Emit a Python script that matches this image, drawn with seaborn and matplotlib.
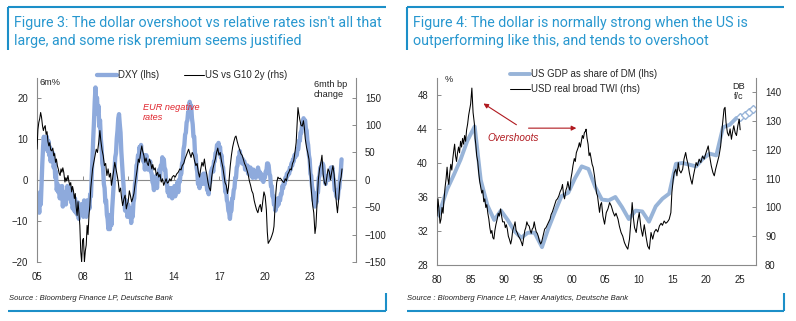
import numpy as np
import matplotlib
matplotlib.use("Agg")
import matplotlib.pyplot as plt
import seaborn as sns
from matplotlib.lines import Line2D

# ---------------- Figure 3 data ----------------
# DXY 6m % change, sampled every 0.05 yr from 2005.00
dxy_chg = [
    -4, -7, -5.5, -8, -3, -6, -1, 4, 8, 10.5, 7.5, 10, 8, 10.5, 7, 9.5, 6, 8, 4.5, 7,                       # 2005
    5, 6.5, 3, 4.5, 0.5, 2, -2.5, -1, -3, -1.5, -4.5, -2, -3.5, -1.5, -6.5, -4, -5.5, -3, -6, -3,           # 2006
    -1.5, -4.5, -2, -4, -2, -5.5, -3.5, -7, -5, -7.5, -4.5, -8, -6, -8.5, -5.5, -9.5, -6.5, -8.5, -6, -8,   # 2007
    -6, -9, -5, -8, -6, -9, -5, -7.5, -5.5, -7, -3.5, -4, 1, 5, 10, 14, 19, 22.5, 18.5, 20,                 # 2008
    16, 18, 13, 14.5, 10, 8, 4, 3, -1, -2, -5.5, -5, -8.5, -9.5, -12, -10, -12, -8.5, -11, -7,              # 2009
    -4, -1, 2, 5.5, 6.5, 10, 12, 15, 16, 13.5, 11.5, 7, 4, 1, -1.5, -5, -7.5, -5, -6.5, -9,                 # 2010
    -6, -8.5, -9, -7, -10.5, -7.5, -9, -5.5, -4.5, -1, 0, 3.5, 4, 6, 5.5, 8, 7, 8.5, 6, 6,                  # 2011
    4.5, 6, 2.5, 5, 6, 3, 2.5, 4.5, 3, 4.5, 2, 1.5, -0.5, -1, -2.5, 0.5, 0, 1, -2, 1,                       # 2012
    1, 2.5, 0.5, 3.5, 3, 5.5, 4.5, 5, 2.5, 2.5, -0.5, -0.5, -3, -2.5, -4, -2, -3, -2, -4.5, -2.5,           # 2013
    -3, -1.5, -4, -1.5, -2, -0.5, -3, 0, -0.5, 1.5, 1.5, 4, 4.5, 7.5, 8.5, 11, 11.5, 14, 14.5, 16.5,        # 2014
    16.5, 19, 18, 18, 15, 13.5, 10.5, 10.5, 6.5, 6, 3, 2, -1, -1, -2, -0.5, 0.5, 1, -1, 1.5,                # 2015
    1, 1.5, -1, -0.5, -2.5, -2, -3.5, -0.5, -0.5, 2, 2.5, 3, 2, 4.5, 4.5, 6.5, 6.5, 8.5, 8, 9,              # 2016
    7, 8, 5.5, 6, 3.5, 3, 0.5, -0.5, -3, -2.5, -5, -5.5, -7.5, -8, -9.5, -7.5, -7.5, -4.5, -4.5, -2.5,      # 2017
    -2, 0.5, 0.5, 3, 3.5, 5.5, 5, 7, 5.5, 5.5, 4, 5, 4, 4.5, 2.5, 3.5, 3, 3.5, 1.5, 3,                      # 2018
    2, 3, 1, 2, 0.5, 2.5, 1.5, 2, 0.5, 2, 1, 3, 1.5, 2, 0.5, 1.5, 0, 1, -0.5, 1,                            # 2019
    0.5, 2, 2, 4, 4, 3.5, 1.5, 1, -1.5, -1.5, -4, -4, -6, -6, -7.5, -5.5, -6.5, -4.5, -6, -4.5,             # 2020
    -5, -3.5, -3.5, -1.5, -2, -0.5, -1, 0.5, 0, 1.5, 1, 2, 1.5, 3, 2.5, 4, 3.5, 5, 4.5, 6,                  # 2021
    5.5, 6.5, 6, 7.5, 7.5, 9.5, 9.5, 11.5, 11.5, 13.5, 13.5, 15, 14, 14.5, 12.5, 12, 9.5, 8.5, 6, 5,        # 2022
    1.5, 1, -1.5, -2.5, -5, -5, -6.5, -5, -5.5, -3, -3, 0.5, 1, 3, 2.5, 4, 4, 3.5, 1.5, 0.5,                # 2023
    -1, 0, 0.5, 1, 0, 2, 1, 3, 2.5, 3, 0.5, 0, -2.5, -2.5, -4, -4, -4.5, -2.5, -2, 0.5,                     # 2024
    2, 5,                                                                                                    # 2025
]
dxy_year = 2005 + 0.05 * np.arange(len(dxy_chg))

spread_year = [2005.00, 2005.06, 2005.12, 2005.18, 2005.24, 2005.30, 2005.36, 2005.42, 2005.48, 2005.54,
               2005.60, 2005.66, 2005.72, 2005.78, 2005.84, 2005.90, 2005.96, 2006.04, 2006.10, 2006.16,
               2006.22, 2006.28, 2006.34, 2006.40, 2006.46, 2006.52, 2006.58, 2006.64, 2006.70, 2006.76,
               2006.84, 2006.90, 2006.96, 2007.04, 2007.10, 2007.16, 2007.22, 2007.28, 2007.34, 2007.40,
               2007.46, 2007.52, 2007.58, 2007.64, 2007.70, 2007.76, 2007.82, 2007.88, 2007.94, 2008.00,
               2008.06, 2008.12, 2008.18, 2008.24, 2008.30, 2008.36, 2008.42, 2008.48, 2008.54, 2008.60,
               2008.66, 2008.74, 2008.82, 2008.90, 2008.98, 2009.06, 2009.14, 2009.20, 2009.28, 2009.36,
               2009.44, 2009.52, 2009.60, 2009.68, 2009.76, 2009.84, 2009.90, 2009.96, 2010.04, 2010.12,
               2010.20, 2010.28, 2010.35, 2010.42, 2010.50, 2010.57, 2010.64, 2010.72, 2010.80, 2010.88,
               2010.94, 2011.00, 2011.08, 2011.16, 2011.23, 2011.30, 2011.38, 2011.45, 2011.52, 2011.60,
               2011.67, 2011.74, 2011.82, 2011.90, 2011.96, 2012.04, 2012.10, 2012.18, 2012.26, 2012.33,
               2012.40, 2012.48, 2012.56, 2012.62, 2012.70, 2012.78, 2012.86, 2012.94, 2013.02, 2013.10,
               2013.18, 2013.26, 2013.34, 2013.42, 2013.50, 2013.58, 2013.66, 2013.74, 2013.82, 2013.90,
               2014.00, 2014.10, 2014.20, 2014.30, 2014.40, 2014.48, 2014.56, 2014.66, 2014.74, 2014.82,
               2014.90, 2014.98, 2015.06, 2015.14, 2015.22, 2015.30, 2015.38, 2015.46, 2015.54, 2015.62,
               2015.70, 2015.78, 2015.86, 2015.94, 2016.02, 2016.10, 2016.18, 2016.26, 2016.34, 2016.42,
               2016.50, 2016.58, 2016.66, 2016.74, 2016.82, 2016.90, 2016.98, 2017.06, 2017.14, 2017.22,
               2017.30, 2017.38, 2017.46, 2017.54, 2017.60, 2017.66, 2017.72, 2017.80, 2017.88, 2017.96,
               2018.04, 2018.10, 2018.18, 2018.26, 2018.34, 2018.42, 2018.50, 2018.58, 2018.66, 2018.74,
               2018.82, 2018.90, 2018.98, 2019.06, 2019.14, 2019.22, 2019.30, 2019.38, 2019.46, 2019.54,
               2019.62, 2019.70, 2019.78, 2019.86, 2019.94, 2020.02, 2020.10, 2020.16, 2020.22, 2020.30,
               2020.38, 2020.46, 2020.54, 2020.60, 2020.66, 2020.72, 2020.78, 2020.86, 2020.94, 2021.02,
               2021.10, 2021.18, 2021.26, 2021.34, 2021.42, 2021.50, 2021.58, 2021.66, 2021.74, 2021.82,
               2021.90, 2021.98, 2022.06, 2022.12, 2022.18, 2022.24, 2022.30, 2022.38, 2022.46, 2022.54,
               2022.60, 2022.66, 2022.74, 2022.82, 2022.90, 2022.98, 2023.06, 2023.14, 2023.22, 2023.30,
               2023.36, 2023.44, 2023.52, 2023.60, 2023.68, 2023.76, 2023.84, 2023.92, 2024.00, 2024.08,
               2024.16, 2024.24, 2024.32, 2024.40, 2024.48, 2024.56, 2024.64, 2024.72, 2024.78, 2024.86,
               2024.94, 2025.02, 2025.08]
spread_bp = [56, 92, 105, 112, 123, 114, 99, 90, 96, 99,
             83, 88, 70, 62, 68, 55, 53, 58, 44, 48,
             32, 38, 26, 20, 12, 8, 20, 14, 22, 14,
             -4, 4, -2, 8, -3, -10, -5, -22, -12, -20,
             -34, -25, -50, -65, -40, -60, -83, -131, -150, -110,
             -107, -150, -130, -119, -83, -100, -65, -47, -15, 2,
             20, 32, 45, 56, 50, 68, 90, 72, 55, 44,
             26, 30, 8, 20, 5, 12, -10, 0, 15, 32,
             20, 8, -4, -22, -15, -34, -47, -35, -28, -53,
             -45, -40, -20, -30, -40, -34, -25, -10, 5, 20,
             38, 32, 50, 62, 52, 44, 32, 40, 30, 26,
             38, 32, 20, 28, 18, 22, 8, 14, 5, 10,
             -4, 2, -10, -4, 2, -6, -4, 2, -2, 5,
             8, 5, 11, 14, 20, 18, 26, 30, 38, 44,
             50, 56, 48, 41, 50, 45, 34, 26, 30, 14,
             5, 20, 32, 25, 38, 20, 10, -5, -15, -20,
             5, 20, 30, 38, 50, 58, 45, 50, 35, 25,
             10, -5, -10, -25, -15, 5, 25, 45, 60, 70,
             78, 80, 70, 62, 55, 48, 45, 38, 30, 25,
             18, 10, -2, -10, -20, -25, -38, -47, -55, -60,
             -50, -45, -58, -40, -22, -30, -55, -95, -116, -112,
             -108, -102, -95, -85, -55, -25, -5, 5, 2, 3,
             0, -3, -5, 2, -2, 10, 14, 20, 18, 30,
             35, 50, 68, 100, 132, 120, 110, 100, 98, 108,
             95, 75, 60, 50, 38, 12, -20, -45, -60, -98,
             -85, -40, 0, 20, 30, 45, 10, -5, -10, 5,
             20, 15, 0, 14, 26, 10, -20, -45, -60, -35,
             -5, 5, 20]
fig3_ticks = [2005, 2008, 2011, 2014, 2017, 2020, 2023]
fig3_ticklabels = ["05", "08", "11", "14", "17", "20", "23"]

# ---------------- Figure 4 data ----------------
gdp_year = [1980.2, 1981.5, 1982.5, 1983.5, 1984.5, 1985.6, 1986.5, 1987.5, 1988.5, 1989.5,
            1990.5, 1991.5, 1992.5, 1993.5, 1994.5, 1995.6, 1996.5, 1997.5, 1998.5, 1999.5,
            2000.5, 2001.5, 2002.5, 2003.5, 2004.5, 2005.5, 2006.5, 2007.5, 2008.5, 2009.5,
            2010.5, 2011.5, 2012.5, 2013.5, 2014.5, 2015.5, 2016.5, 2017.5, 2018.5, 2019.5,
            2020.5, 2021.5, 2022.5, 2023.5, 2024.5]
gdp_share = [33.8, 36.9, 38.6, 40.4, 42.6, 44.3, 38.0, 35.0, 33.3, 34.4,
             33.3, 32.0, 31.2, 31.8, 31.8, 30.1, 32.2, 34.2, 36.1, 36.5,
             38.2, 39.6, 39.3, 37.2, 35.7, 35.6, 36.0, 34.8, 33.4, 34.4,
             34.3, 33.1, 34.9, 35.8, 36.4, 39.9, 40.0, 39.8, 39.6, 40.5,
             41.1, 40.9, 44.2, 44.5, 45.3]
fc_year = [2025.0, 2025.7, 2026.4, 2027.0]
fc_share = [45.4, 45.7, 46.0, 46.3]

twi_year = [1980.00, 1980.15, 1980.30, 1980.45, 1980.60, 1980.75, 1980.90, 1981.05, 1981.20, 1981.35,
            1981.50, 1981.62, 1981.75, 1981.90, 1982.05, 1982.20, 1982.35, 1982.50, 1982.62, 1982.75,
            1982.90, 1983.05, 1983.20, 1983.35, 1983.50, 1983.65, 1983.80, 1983.95, 1984.10, 1984.25,
            1984.40, 1984.55, 1984.70, 1984.85, 1985.00, 1985.10, 1985.18, 1985.26, 1985.36, 1985.46,
            1985.56, 1985.66, 1985.76, 1985.90, 1986.05, 1986.20, 1986.35, 1986.50, 1986.65, 1986.80,
            1986.95, 1987.10, 1987.25, 1987.40, 1987.55, 1987.70, 1987.85, 1988.00, 1988.15, 1988.30,
            1988.45, 1988.60, 1988.75, 1988.95, 1989.10, 1989.25, 1989.45, 1989.60, 1989.75, 1990.00,
            1990.15, 1990.30, 1990.45, 1990.60, 1990.75, 1990.95, 1991.10, 1991.25, 1991.45, 1991.60,
            1991.75, 1991.95, 1992.10, 1992.25, 1992.45, 1992.60, 1992.70, 1992.85, 1993.05, 1993.20,
            1993.35, 1993.50, 1993.70, 1993.85, 1994.00, 1994.15, 1994.30, 1994.45, 1994.60, 1994.75,
            1994.90, 1995.05, 1995.20, 1995.40, 1995.55, 1995.70, 1995.85, 1996.00, 1996.20, 1996.40,
            1996.60, 1996.80, 1996.95, 1997.15, 1997.35, 1997.50, 1997.70, 1997.90, 1998.10, 1998.30,
            1998.50, 1998.65, 1998.80, 1998.95, 1999.15, 1999.30, 1999.45, 1999.60, 1999.75, 1999.90,
            2000.05, 2000.20, 2000.40, 2000.55, 2000.70, 2000.85, 2001.00, 2001.15, 2001.30, 2001.45,
            2001.60, 2001.75, 2001.90, 2002.05, 2002.15, 2002.30, 2002.45, 2002.60, 2002.75, 2002.90,
            2003.05, 2003.20, 2003.40, 2003.55, 2003.70, 2003.85, 2004.00, 2004.15, 2004.30, 2004.45,
            2004.65, 2004.90, 2005.15, 2005.40, 2005.65, 2005.90, 2006.15, 2006.40, 2006.60, 2006.90,
            2007.10, 2007.35, 2007.60, 2007.85, 2008.10, 2008.35, 2008.60, 2008.80, 2009.00, 2009.20,
            2009.35, 2009.60, 2009.80, 2010.05, 2010.30, 2010.55, 2010.80, 2011.05, 2011.30, 2011.55,
            2011.80, 2012.05, 2012.30, 2012.55, 2012.80, 2013.05, 2013.30, 2013.50, 2013.75, 2014.00,
            2014.25, 2014.50, 2014.75, 2014.90, 2015.10, 2015.25, 2015.50, 2015.65, 2015.85, 2016.00,
            2016.25, 2016.50, 2016.70, 2016.95, 2017.10, 2017.30, 2017.50, 2017.70, 2017.90, 2018.10,
            2018.30, 2018.50, 2018.70, 2018.95, 2019.20, 2019.45, 2019.70, 2019.90, 2020.15, 2020.30,
            2020.50, 2020.75, 2021.00, 2021.20, 2021.40, 2021.65, 2021.90, 2022.15, 2022.40, 2022.65,
            2022.80, 2022.95, 2023.15, 2023.35, 2023.55, 2023.75, 2023.90, 2024.10, 2024.30, 2024.50,
            2024.70, 2024.90, 2025.05]
twi_index = [97, 103, 99, 94.5, 96, 100, 98, 103, 107, 110,
             114, 110, 108, 112, 115, 113, 117, 120, 122, 118,
             116, 119, 121, 119, 123, 121, 124, 122, 125, 123,
             127, 129, 132, 134, 136, 139, 141.5, 138, 133, 131,
             129, 124, 122, 118, 116, 112, 109, 107, 105, 106,
             102, 103, 100, 101, 98, 96, 93, 91, 92, 89.5,
             89, 92, 94, 96, 98, 97, 99.5, 97, 95, 95,
             93, 94, 92.5, 90, 89, 87.3, 89, 92, 93.5, 95,
             92, 91, 90, 89.5, 88.5, 87.5, 86.7, 89, 92, 93,
             95, 94, 93.5, 92, 91, 92.5, 93, 95, 93, 91.5,
             91, 90, 88.5, 87.3, 88, 89.5, 91, 92.5, 93, 94,
             95, 96, 97.5, 98.5, 100, 101, 102.5, 103, 104, 105.5,
             106.5, 108, 104.5, 103, 106, 107, 109, 107, 106, 110,
             112, 114.5, 117, 116, 119, 120, 121, 122.5, 121, 123,
             125, 124, 126, 126.5, 127.2, 124, 122, 118, 119, 117,
             115, 114, 111, 108, 105, 104, 101, 98.3, 101, 101.7,
             97, 94.2, 98.2, 99.5, 101.7, 100.5, 98.5, 97, 98, 95.9,
             93.5, 91.3, 90, 87.8, 86.5, 85.5, 89, 95, 101.7, 96,
             93, 91.3, 95, 98.2, 93, 90, 94, 90, 86.6, 85.5,
             91.3, 89, 91.5, 92.4, 91.5, 93.6, 94.5, 93.8, 95.3, 94.5,
             95, 95.9, 98.2, 105.2, 109.8, 112.1, 113.3, 111, 115.6, 113,
             112, 113.3, 116.8, 119.1, 117, 115, 112, 109.8, 108.1, 111,
             113.3, 115.6, 114.5, 116.8, 115.6, 117.9, 116.8, 118.5, 120.3, 121.4,
             118, 114.5, 112.1, 111, 113.3, 115.6, 117.9, 121.4, 128.4, 134.2,
             134.8, 129.5, 126, 124.9, 127.3, 123.7, 126, 128.4, 126, 125,
             128.4, 130.7, 127]
fig4_ticks = [1980, 1985, 1990, 1995, 2000, 2005, 2010, 2015, 2020, 2025]
fig4_ticklabels = ["80", "85", "90", "95", "00", "05", "10", "15", "20", "25"]

# ---------------- styling ----------------
sns.set_theme(style="white")
plt.rcParams['font.family'] = ['Liberation Sans', 'DejaVu Sans']

W, H = 796, 321
BLUE_DXY = "#8eaadc"
BLUE_GDP = "#98b4d8"
FRAME = "#1c8fc8"
TITLE = "#2797cf"
SPINE = "#8a8a8a"
TICKTXT = "#222222"
RED = "#e0242c"
DARKRED = "#b0191f"
FS = 6.9

fig = plt.figure(figsize=(W / 100, H / 100), dpi=100)


def fx(px):
    return px / W


def fy(py):
    return 1 - py / H


def box(x0, y0, x1, y1):
    return [fx(x0), fy(y1), fx(x1) - fx(x0), fy(y0) - fy(y1)]


def style_axes(ax, side):
    for s in ["top", "bottom", "left", "right"]:
        ax.spines[s].set_visible(False)
    ax.spines[side].set_visible(True)
    ax.spines[side].set_color(SPINE)
    ax.spines[side].set_linewidth(0.8)
    ax.tick_params(axis="y", direction="in", length=3, width=0.7, color=SPINE,
                   labelsize=FS, labelcolor=TICKTXT, pad=6.5)
    ax.grid(False)


# ---------------- Figure 3 ----------------
ax1 = fig.add_axes(box(37, 78, 356, 262))
ax1r = ax1.twinx()

sns.lineplot(x=dxy_year, y=dxy_chg, ax=ax1, color=BLUE_DXY, lw=3.1, estimator=None, sort=False)
sns.lineplot(x=spread_year, y=spread_bp, ax=ax1r, color="black", lw=0.75, estimator=None, sort=False)

ax1.set_xlim(2005, 2026)
ax1.set_ylim(-20, 24.8)
ax1r.set_ylim(-150, 186)
ax1.set_yticks([-20, -10, 0, 10, 20])
ax1r.set_yticks([-150, -100, -50, 0, 50, 100, 150])
ax1.set_xticks(fig3_ticks)
ax1.set_xticklabels(fig3_ticklabels)
style_axes(ax1, "left")
style_axes(ax1r, "right")
ax1.tick_params(axis="x", length=0, labelsize=FS, labelcolor=TICKTXT, pad=7)
ax1.set_xlabel("")
ax1.set_ylabel("")
ax1r.set_ylabel("")

# zero line carrying the date ticks
zero1 = ax1.secondary_xaxis(0, transform=ax1.transData)
zero1.set_xticks(fig3_ticks)
zero1.tick_params(direction="in", length=3, width=0.7, color=SPINE, labelbottom=False)
for s in zero1.spines.values():
    s.set_color(SPINE)
    s.set_linewidth(0.8)

fig.legend(handles=[ax1.lines[0], ax1r.lines[0]], labels=["DXY (lhs)", "US vs G10 2y (rhs)"],
           loc="center left", bbox_to_anchor=(fx(97), fy(75)), ncol=2, frameon=False,
           fontsize=FS, handlelength=2.1, handletextpad=0.1, columnspacing=2.6,
           borderpad=0, borderaxespad=0)

fig.text(fx(40), fy(83), "6m%", fontsize=FS - 0.3, color=TICKTXT, va="center", ha="left")
fig.text(fx(314), fy(80), "6mth bp\nchange", fontsize=FS - 0.3, color=TICKTXT, va="top",
         ha="left", linespacing=1.15)
fig.text(fx(143), fy(103), "EUR negative\nrates", fontsize=FS - 0.3, color=RED, va="top",
         ha="left", style="italic", linespacing=1.1)

# ---------------- Figure 4 ----------------
ax2 = fig.add_axes(box(437, 78, 756, 265))
ax2r = ax2.twinx()

sns.lineplot(x=gdp_year, y=gdp_share, ax=ax2, color=BLUE_GDP, lw=2.8, estimator=None, sort=False)
sns.lineplot(x=fc_year, y=fc_share, ax=ax2, color=BLUE_GDP, lw=0, marker="D", markersize=4.0,
             markerfacecolor="white", markeredgecolor=BLUE_GDP, markeredgewidth=1.0,
             estimator=None, sort=False)
sns.lineplot(x=twi_year, y=twi_index, ax=ax2r, color="black", lw=0.75, estimator=None, sort=False)

ax2.set_xlim(1980, 2027.4)
ax2.set_ylim(28, 50)
ax2r.set_ylim(80, 145)
ax2.set_yticks([28, 32, 36, 40, 44, 48])
ax2r.set_yticks([80, 90, 100, 110, 120, 130, 140])
ax2.set_xticks(fig4_ticks)
ax2.set_xticklabels(fig4_ticklabels)
style_axes(ax2, "left")
style_axes(ax2r, "right")
ax2.spines["bottom"].set_visible(True)
ax2.spines["bottom"].set_color(SPINE)
ax2.spines["bottom"].set_linewidth(0.8)
ax2.tick_params(axis="x", direction="in", length=3, width=0.7, color=SPINE,
                labelsize=FS, labelcolor=TICKTXT, pad=7)
ax2.set_xlabel("")
ax2.set_ylabel("")
ax2r.set_ylabel("")

fig.legend(handles=[ax2.lines[0], ax2r.lines[0]],
           labels=["US GDP as share of DM (lhs)", "USD real broad TWI (rhs)"],
           loc="upper left", bbox_to_anchor=(fx(510), fy(69)), ncol=1, frameon=False,
           fontsize=FS, handlelength=2.1, handletextpad=0.1, labelspacing=0.55,
           borderpad=0, borderaxespad=0)

fig.text(fx(445), fy(80), "%", fontsize=FS - 0.3, color=TICKTXT, va="center", ha="left")
fig.text(fx(739), fy(82), "DB\nf/c", fontsize=FS - 0.3, color=TICKTXT, va="top",
         ha="center", linespacing=1.15)
ax2.text(1991.3, 42.9, "Overshoots", fontsize=FS + 0.3, color=DARKRED, style="italic",
         ha="center", va="center")
arrow = dict(arrowstyle="-|>", color=DARKRED, lw=0.8, mutation_scale=7, shrinkA=0, shrinkB=0)
ax2.annotate("", xy=(1986.9, 47.0), xytext=(1991.8, 44.5), arrowprops=arrow)
ax2.annotate("", xy=(2000.7, 44.1), xytext=(1993.6, 44.1), arrowprops=arrow)

# ---------------- titles, sources and frames ----------------
titles = [
    (14, "Figure 3: The dollar overshoot vs relative rates isn't all that\n"
         "large, and some risk premium seems justified"),
    (413, "Figure 4: The dollar is normally strong when the US is\n"
          "outperforming like this, and tends to overshoot"),
]
for x0, txt in titles:
    fig.text(fx(x0), fy(16.5), txt, fontsize=10.3, color=TITLE, family=["Roboto", "DejaVu Sans"],
             va="top", ha="left", linespacing=1.36)

sources = [
    (9, "Source : Bloomberg Finance LP, Deutsche Bank"),
    (407, "Source : Bloomberg Finance LP, Haver Analytics, Deutsche Bank"),
]
for x0, txt in sources:
    fig.text(fx(x0), fy(298), txt, fontsize=5.5, style="italic", color=TICKTXT,
             va="center", ha="left")

for xl, xr in [(8, 386), (407, 784)]:
    for xs, ys in [([xl, xr], [7, 7]), ([xl, xl], [7, 50]),
                   ([xl, xr], [311, 311]), ([xr, xr], [293, 311])]:
        fig.add_artist(Line2D([fx(v) for v in xs], [fy(v) for v in ys],
                              transform=fig.transFigure, color=FRAME, lw=1.5,
                              solid_capstyle="butt"))

fig.savefig("out.png", dpi=100)
